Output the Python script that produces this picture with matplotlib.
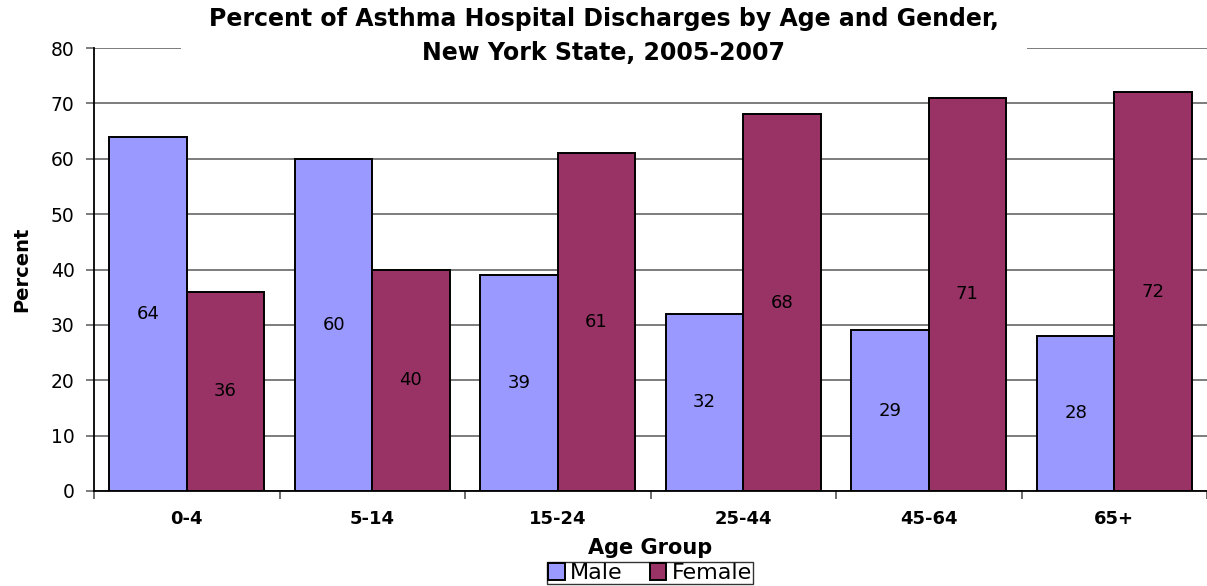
import numpy as np
import matplotlib
matplotlib.use("Agg")
import matplotlib.pyplot as plt

age_groups = ["0-4", "5-14", "15-24", "25-44", "45-64", "65+"]
male = [64, 60, 39, 32, 29, 28]
female = [36, 40, 61, 68, 71, 72]

male_color = "#9999FF"
female_color = "#993366"

fig = plt.figure(figsize=(12.07, 5.86), dpi=100)
ax = fig.add_axes([94 / 1207, 1 - 491 / 586, 1 - 94 / 1207, (491 - 48) / 586])

x = np.arange(len(age_groups))
w = 0.417
b1 = ax.bar(x - w / 2, male, w, color=male_color, edgecolor="black", linewidth=1.4,
            label="Male", zorder=3)
b2 = ax.bar(x + w / 2, female, w, color=female_color, edgecolor="black", linewidth=1.4,
            label="Female", zorder=3)

for bars, vals in ((b1, male), (b2, female)):
    for rect, v in zip(bars, vals):
        ax.text(rect.get_x() + rect.get_width() / 2, v / 2, str(v),
                ha="center", va="center", fontsize=13, zorder=4)

ax.set_ylim(0, 80)
ax.set_xlim(-0.5, 5.45)
ax.set_yticks(range(0, 81, 10))
ax.yaxis.grid(True, color="#666666", linewidth=1.2, zorder=0)
ax.set_axisbelow(True)

ax.set_xticks(x)
ax.set_xticklabels(age_groups, fontweight="bold", fontsize=13)
ax.set_xticks(np.arange(-0.5, 6, 1), minor=True)
ax.tick_params(axis="x", which="major", length=0, pad=14)
ax.tick_params(axis="x", which="minor", length=6, width=1.2, color="#555555")
ax.tick_params(axis="y", length=6, width=1.2, color="#666666", labelsize=13.5, pad=8)

for s in ["top", "right"]:
    ax.spines[s].set_visible(False)
ax.spines["left"].set_linewidth(1.3)
ax.spines["bottom"].set_linewidth(1.3)

ax.set_xlabel("Age Group", fontweight="bold", fontsize=15, labelpad=7)
ax.set_ylabel("Percent", fontweight="bold", fontsize=14,
              family=["DejaVu Sans Condensed", "DejaVu Sans"], labelpad=14)

fig.text(0.5004, 1 - 36 / 586,
         "Percent of Asthma Hospital Discharges by Age and Gender,\nNew York State, 2005-2007",
         ha="center", va="center", fontsize=17, fontweight="bold", linespacing=1.5,
         bbox=dict(facecolor="white", edgecolor="none", pad=20), zorder=10)

leg = fig.legend(handles=[b1, b2], labels=["Male", "Female"], loc="upper center",
                 bbox_to_anchor=(650 / 1207, 1 - 562 / 586), ncol=2,
                 frameon=True, fancybox=False, edgecolor="black", fontsize=16,
                 handlelength=0.75, handleheight=0.75, handletextpad=0.25,
                 columnspacing=1.2, borderpad=0.05, borderaxespad=0)
leg.get_frame().set_linewidth(1.0)

fig.savefig("out.png", dpi=100)
